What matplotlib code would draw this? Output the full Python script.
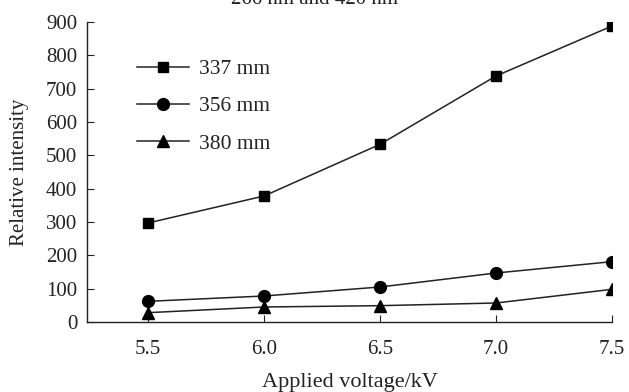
import matplotlib
matplotlib.use("Agg")
import matplotlib.pyplot as plt

voltage = [5.5, 6.0, 6.5, 7.0, 7.5]
s337 = [297, 378, 533, 738, 888]
s356 = [62, 78, 105, 147, 181]
s380 = [28, 45, 49, 57, 98]
labels = ["337 mm", "356 mm", "380 mm"]
xticks = [5.5, 6.0, 6.5, 7.0, 7.5]
yticks = [0, 100, 200, 300, 400, 500, 600, 700, 800, 900]

plt.rcParams['font.family'] = ['Liberation Serif', 'DejaVu Serif']
W, H = 629, 392
fig = plt.figure(figsize=(W/100, H/100), dpi=100)
ax = fig.add_axes([87/W, 1-322/H, (612-87)/W, (322-22)/H])
ax.plot(voltage, s337, '-s', color='#222222', mfc='black', mec='black', lw=1.1, ms=6.5, label=labels[0])
ax.plot(voltage, s356, '-o', color='#222222', mfc='black', mec='black', lw=1.1, ms=8.5, label=labels[1])
ax.plot(voltage, s380, '-^', color='#222222', mfc='black', mec='black', lw=1.1, ms=8.5, label=labels[2])
ax.set_xlim(5.237, 7.5)
ax.set_ylim(0, 900)
ax.set_xticks(xticks)
ax.set_xticklabels([f"{v:.1f}" for v in xticks])
ax.set_yticks(yticks)
for s in ['top', 'right']:
    ax.spines[s].set_visible(False)
for s in ['left', 'bottom']:
    ax.spines[s].set_color('#222222')
    ax.spines[s].set_linewidth(1.0)
ax.tick_params(direction='in', length=5, labelsize=15, colors='#222222')
ax.tick_params(axis='x', pad=13)
ax.tick_params(axis='y', pad=7)
ax.set_xlabel("Applied voltage/kV", fontsize=16, labelpad=10, color='#222222')
ax.set_ylabel("Relative intensity", fontsize=15, labelpad=12, color='#222222')
leg = fig.legend(loc='upper left', bbox_to_anchor=(137/W, 1-59/H), frameon=False,
                 fontsize=15.5, labelspacing=0.8, handlelength=2.4, handletextpad=0.5,
                 borderpad=0, borderaxespad=0)
for t in leg.get_texts():
    t.set_color('#222222')
fig.text(0.5, 1.0, "266 nm and 420 nm", ha='center', va='center', fontsize=15, color='#222222')
fig.savefig("out.png", dpi=100)
